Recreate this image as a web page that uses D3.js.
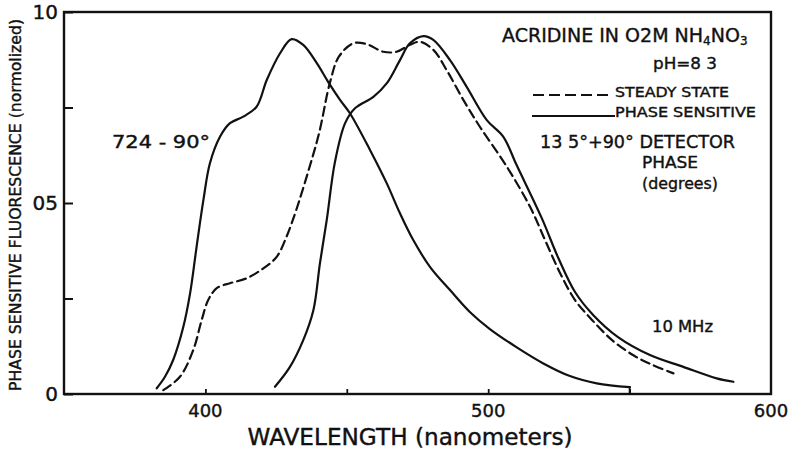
<!DOCTYPE html>
<html>
<head>
<meta charset="utf-8">
<script src="https://cdn.jsdelivr.net/npm/d3@7"></script>
<style>
  body { margin: 0; background: #fff; }
  text { font-family: "DejaVu Sans", sans-serif; fill: #111; stroke: #111; stroke-width: 0.4px; }
</style>
</head>
<body>
<div id="chart-area"></div>
<script>
// 724 - 90 deg phase sensitive (left solid curve)
let wlLeft = [382.8, 385.7, 388.6, 392.2, 394.6, 396.9, 399.3, 401.6, 405.2, 408.7, 413.4, 418.1, 421.7,
    426.4, 430.5, 434.6, 439.4, 443.4, 447.6, 451.1, 458.2, 464.1, 468.8, 473.5, 479.4, 486.5, 493.6,
    500.6, 510.1, 519.5, 528.9, 538.4, 550.1];
let fluLeft = [0.015, 0.045, 0.089, 0.176, 0.264, 0.386, 0.508, 0.604, 0.674, 0.709, 0.726, 0.752, 0.822,
    0.892, 0.929, 0.914, 0.866, 0.817, 0.770, 0.735, 0.639, 0.552, 0.473, 0.403, 0.333, 0.272, 0.214,
    0.170, 0.122, 0.080, 0.047, 0.028, 0.018];

// steady state (dashed)
let wlSteady = [385.1, 391.0, 395.7, 398.7, 401.0, 404.0, 408.7, 414.6, 420.5, 425.2, 428.7, 432.0, 436.3,
    440.2, 444.1, 447.2, 452.3, 457.0, 462.9, 467.6, 472.3, 475.9, 480.6, 485.3, 491.2, 497.1, 506.5,
    514.8, 520.1, 525.4, 530.7, 536.7, 543.8, 551.2, 557.2, 565.5];
let fluSteady = [0.010, 0.045, 0.115, 0.194, 0.246, 0.277, 0.290, 0.303, 0.329, 0.359, 0.412, 0.479, 0.581,
    0.683, 0.817, 0.883, 0.918, 0.916, 0.896, 0.896, 0.914, 0.922, 0.901, 0.848, 0.770, 0.699, 0.596,
    0.490, 0.403, 0.317, 0.246, 0.194, 0.141, 0.102, 0.079, 0.054];

// 13.5 + 90 deg phase sensitive (right solid curve)
let wlRight = [424.6, 429.9, 434.6, 438.2, 440.5, 442.9, 445.8, 449.4, 452.9, 459.4, 464.1, 468.8, 472.3,
    477.1, 480.6, 486.5, 492.4, 499.5, 505.3, 510.0, 518.9, 524.8, 530.7, 537.1, 545.9, 557.2,
    569.0, 580.8, 586.7];
let fluRight = [0.019, 0.071, 0.141, 0.220, 0.342, 0.455, 0.607, 0.709, 0.748, 0.778, 0.813, 0.874, 0.918,
    0.937, 0.927, 0.874, 0.804, 0.717, 0.674, 0.600, 0.461, 0.356, 0.267, 0.207, 0.149, 0.102,
    0.071, 0.041, 0.032];

let xTickValues = [400, 450, 500, 550];
let xTickLabels = ['400', '500', '600'];
let xLabelValues = [400, 500, 600];
let yTickValues = [0, 0.25, 0.5, 0.75, 1.0];
let yTickLabels = ['0', '', '05', '', '10'];

let margin = {left: 64, top: 12, right: 29, bottom: 56};
let width = 800 - margin.left - margin.right;
let height = 450 - margin.top - margin.bottom;

var svg = d3.select('#chart-area')
    .append('svg')
    .attr('width', 800)
    .attr('height', 450);

var g = svg.append('g')
    .attr('transform', 'translate(' + margin.left + ', ' + margin.top + ')');

var x = d3.scaleLinear().domain([350, 600]).range([0, width]);
var y = d3.scaleLinear().domain([0, 1]).range([height, 0]);

// frame
g.append('rect')
    .attr('x', 0).attr('y', 0)
    .attr('width', width).attr('height', height)
    .attr('fill', 'none')
    .attr('stroke', '#111')
    .attr('stroke-width', 2.4);

// y axis, ticks pointing inward
var yAxisCall = d3.axisLeft(y)
    .tickValues(yTickValues)
    .tickSizeInner(-9)
    .tickSizeOuter(0)
    .tickPadding(6)
    .tickFormat(function(d, i) { return yTickLabels[i]; });
var yAxis = g.append('g').attr('class', 'y axis').call(yAxisCall);
yAxis.select('.domain').remove();
yAxis.selectAll('line').attr('stroke', '#111').attr('stroke-width', 2);
yAxis.selectAll('text')
    .attr('font-size', '20px')
    .attr('font-family', '"DejaVu Sans", sans-serif')
    .attr('fill', '#111');

// x axis: small inward ticks
var xAxisCall = d3.axisBottom(x)
    .tickValues(xTickValues)
    .tickSizeInner(-5)
    .tickSizeOuter(0)
    .tickFormat('');
var xAxis = g.append('g').attr('class', 'x axis')
    .attr('transform', 'translate(0, ' + height + ')')
    .call(xAxisCall);
xAxis.select('.domain').remove();
xAxis.selectAll('line').attr('stroke', '#111').attr('stroke-width', 1.8);

g.selectAll('.x-label')
    .data(xLabelValues)
    .enter()
    .append('text')
    .attr('class', 'x-label')
    .attr('x', function(d) { return x(d); })
    .attr('y', height + 23)
    .attr('text-anchor', 'middle')
    .attr('font-size', '18px')
    .text(function(d, i) { return xTickLabels[i]; });

// curves
var line = d3.line()
    .x(function(d) { return x(d[0]); })
    .y(function(d) { return y(d[1]); })
    .curve(d3.curveCatmullRom.alpha(0.5));

var series = [
    {wl: wlLeft, fl: fluLeft, dash: null},
    {wl: wlSteady, fl: fluSteady, dash: '9,5'},
    {wl: wlRight, fl: fluRight, dash: null}
];

g.selectAll('.curve')
    .data(series)
    .enter()
    .append('path')
    .attr('class', 'curve')
    .attr('d', function(s) { return line(s.wl.map(function(w, i) { return [w, s.fl[i]]; })); })
    .attr('fill', 'none')
    .attr('stroke', '#111')
    .attr('stroke-width', 2.2)
    .attr('stroke-linecap', 'round')
    .attr('stroke-dasharray', function(s) { return s.dash; });

// small end tick on the left curve at 550
g.append('line')
    .attr('x1', x(550)).attr('x2', x(550))
    .attr('y1', height - 8).attr('y2', height)
    .attr('stroke', '#111').attr('stroke-width', 1.8);

// axis labels
svg.append('text')
    .attr('x', 410)
    .attr('y', 445)
    .attr('text-anchor', 'middle')
    .attr('font-size', '23px')
    .attr('textLength', 325)
    .attr('lengthAdjust', 'spacingAndGlyphs')
    .text('WAVELENGTH (nanometers)');

svg.append('text')
    .attr('transform', 'translate(21, 205) rotate(-90)')
    .attr('text-anchor', 'middle')
    .attr('font-size', '16px')
    .attr('textLength', 372)
    .attr('lengthAdjust', 'spacingAndGlyphs')
    .text('PHASE SENSITIVE FLUORESCENCE (normolized)');

// annotations
svg.append('text')
    .attr('x', 112).attr('y', 148)
    .attr('font-size', '17px')
    .attr('textLength', 98)
    .attr('lengthAdjust', 'spacingAndGlyphs')
    .text('724 - 90°');

var title = svg.append('text')
    .attr('x', 502).attr('y', 42)
    .attr('font-size', '19px');
title.append('tspan').text('ACRIDINE IN O2M NH');
title.append('tspan').attr('font-size', '12px').attr('dy', 3).text('4');
title.append('tspan').attr('dy', -3).text('NO');
title.append('tspan').attr('font-size', '12px').attr('dy', 3).text('3');

svg.append('text')
    .attr('x', 653).attr('y', 69)
    .attr('font-size', '16px')
    .attr('textLength', 64)
    .attr('lengthAdjust', 'spacingAndGlyphs')
    .text('pH=8 3');

// legend
svg.append('line')
    .attr('x1', 533).attr('x2', 613)
    .attr('y1', 95).attr('y2', 95)
    .attr('stroke', '#111').attr('stroke-width', 2)
    .attr('stroke-dasharray', '11,5');
svg.append('text')
    .attr('x', 615).attr('y', 97)
    .attr('font-size', '14px')
    .attr('textLength', 114)
    .attr('lengthAdjust', 'spacingAndGlyphs')
    .text('STEADY STATE');

svg.append('line')
    .attr('x1', 532).attr('x2', 615)
    .attr('y1', 116).attr('y2', 116)
    .attr('stroke', '#111').attr('stroke-width', 2);
svg.append('text')
    .attr('x', 615).attr('y', 117)
    .attr('font-size', '14px')
    .attr('textLength', 141)
    .attr('lengthAdjust', 'spacingAndGlyphs')
    .text('PHASE SENSITIVE');

svg.append('text')
    .attr('x', 540).attr('y', 148)
    .attr('font-size', '18px')
    .attr('textLength', 195)
    .attr('lengthAdjust', 'spacingAndGlyphs')
    .text('13 5°+90° DETECTOR');

svg.append('text')
    .attr('x', 642).attr('y', 168)
    .attr('font-size', '16px')
    .attr('textLength', 56)
    .attr('lengthAdjust', 'spacingAndGlyphs')
    .text('PHASE');

svg.append('text')
    .attr('x', 642).attr('y', 189)
    .attr('font-size', '16px')
    .attr('textLength', 76)
    .attr('lengthAdjust', 'spacingAndGlyphs')
    .text('(degrees)');

svg.append('text')
    .attr('x', 652).attr('y', 332)
    .attr('font-size', '16px')
    .attr('textLength', 61)
    .attr('lengthAdjust', 'spacingAndGlyphs')
    .text('10 MHz');
</script>
</body>
</html>
